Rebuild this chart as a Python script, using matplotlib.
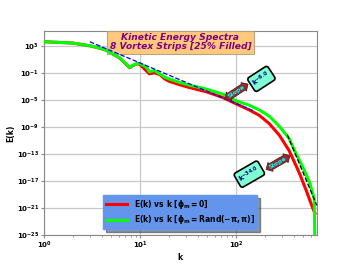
import numpy as np
import matplotlib
matplotlib.use("Agg")
import matplotlib.pyplot as plt

# spectrum (k, log10 E)
k_zero = [1, 2, 3, 3.8, 4.45, 4.9, 6.1, 7.0, 7.8, 8.5, 9.4, 10, 11.6, 12.5, 14.1, 16, 18,
          20, 25.6, 32, 48.6, 72.4, 100, 137, 174, 220, 280, 355, 415, 459, 535, 625, 660]
logE_zero = [3.6, 3.4, 3.0, 2.65, 2.35, 2.0, 1.2, 0.4, -0.25, 0.1, 0.35, 0.2, -0.7, -1.15,
             -1.0, -1.25, -1.9, -2.25, -2.75, -3.15, -3.8, -4.65, -5.6, -6.5, -7.3, -8.5,
             -10.2, -12.5, -14.6, -16.0, -18.4, -21.0, -21.8]

k_rand = [1, 2, 3, 3.8, 4.45, 4.9, 6.1, 7.0, 7.8, 8.5, 9.4, 10, 11.6, 12.5, 14.1, 16, 18,
          20, 25.6, 32, 48.6, 72.4, 100, 137, 174, 220, 280, 355, 405, 495, 580, 648, 665]
logE_rand = [3.6, 3.4, 3.0, 2.65, 2.35, 2.0, 1.25, 0.45, -0.2, 0.15, 0.4, 0.35, -0.15, -0.85,
             -0.65, -1.15, -1.65, -1.9, -2.4, -2.8, -3.4, -4.15, -5.15, -5.8, -6.5, -7.4,
             -8.9, -10.7, -12.5, -15.0, -17.2, -19.6, -30.0]

# fitted slopes
fit1_k = [3, 155]
fit1_slope = -6.0
fit1_logC = 6.45
fit2_k = [340, 690]
fit2_slope = -34.0
fit2_logC = 75.9

E_zero = 10.0 ** np.array(logE_zero)
E_rand = 10.0 ** np.array(logE_rand)

fig, ax = plt.subplots(figsize=(3.52, 2.64), dpi=100)
fig.subplots_adjust(left=0.125, right=0.9, top=0.883, bottom=0.11)

ax.loglog(k_zero, E_zero, color="red", lw=2.2, label=r"E(k) vs k [$\mathbf{\phi_m = 0}$]", zorder=3)
ax.loglog(k_rand, E_rand, color="lime", lw=2.2,
          label=r"E(k) vs k [$\mathbf{\phi_m = Rand(-\pi, \pi)}$]", zorder=4)

f1 = np.array(fit1_k, dtype=float)
ax.loglog(f1, 10 ** fit1_logC * f1 ** fit1_slope, "--", color="blue", lw=0.9, zorder=5)
f2 = np.array(fit2_k, dtype=float)
ax.loglog(f2, 10 ** fit2_logC * f2 ** fit2_slope, "--", color="black", lw=0.9, zorder=5)

ax.set_xlim(1, 690)
ax.set_ylim(1e-25, 1.6e5)
ax.set_yticks([1e-25, 1e-21, 1e-17, 1e-13, 1e-9, 1e-5, 1e-1, 1e3])
ax.grid(True, which="major", color="#c8c8c8", lw=0.9)
for lab in ax.get_xticklabels() + ax.get_yticklabels():
    lab.set_fontweight("bold")
ax.tick_params(labelsize=5, length=2, pad=1.5, color="#888888")
ax.tick_params(which="minor", length=1.2, color="#888888")
for s in ax.spines.values():
    s.set_color("#888888")

ax.set_xlabel("k", fontsize=5.5, fontweight="bold", labelpad=1)
ax.set_ylabel("E(k)", fontsize=5.5, fontweight="bold", labelpad=1)

ax.text(0.5, 0.99, "Kinetic Energy Spectra\n8 Vortex Strips [25% Filled]",
        transform=ax.transAxes, ha="center", va="top", fontsize=6.6,
        fontweight="bold", fontstyle="italic", color="purple", linespacing=1.05,
        bbox=dict(boxstyle="square,pad=0.25", fc="#ffc46e", ec="#b0a080", alpha=0.9, lw=0.8))

# slope annotations
ax.text(100, 10 ** -3.8, "Slope", rotation=33, ha="center", va="center", fontsize=4.5,
        fontweight="bold", color="cyan",
        bbox=dict(boxstyle="darrow,pad=0.15", fc="#8b2e2e", ec="#5a1a1a", lw=0.6), zorder=6)
ax.text(183, 10 ** -1.9, r"$\mathbf{k^{-6.0}}$", rotation=33, ha="center", va="center",
        fontsize=5, color="navy",
        bbox=dict(boxstyle="round,pad=0.35", fc="aquamarine", ec="black", lw=1.2), zorder=6)
ax.text(271, 10 ** -14.3, "Slope", rotation=30, ha="center", va="center", fontsize=4.5,
        fontweight="bold", color="cyan",
        bbox=dict(boxstyle="darrow,pad=0.15", fc="#8b2e2e", ec="#5a1a1a", lw=0.6), zorder=6)
ax.text(137, 10 ** -16.0, r"$\mathbf{k^{-34.0}}$", rotation=30, ha="center", va="center",
        fontsize=5, color="navy",
        bbox=dict(boxstyle="round,pad=0.35", fc="aquamarine", ec="black", lw=1.2), zorder=6)

leg = ax.legend(loc="lower center", bbox_to_anchor=(0.5, 0.01),
                prop={"weight": "bold", "size": 5.5}, facecolor="cornflowerblue",
                framealpha=1.0, shadow=True, fancybox=False, edgecolor="cornflowerblue",
                handlelength=2.8, borderpad=0.35, labelspacing=0.3)

fig.savefig("out.png", dpi=100)
